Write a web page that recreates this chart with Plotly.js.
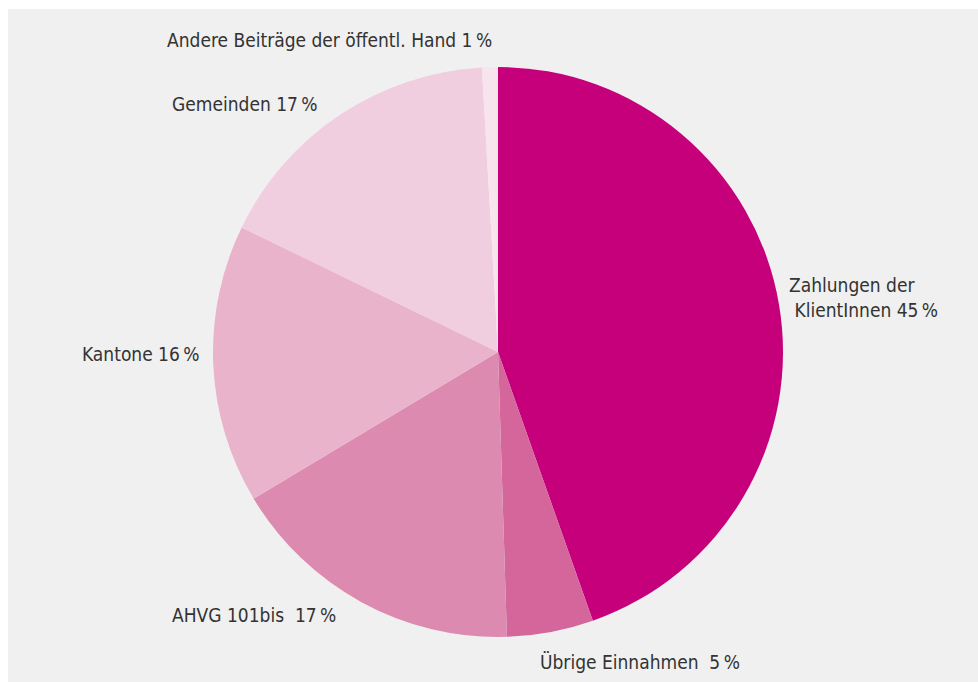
<!DOCTYPE html>
<html>
<head>
<meta charset="utf-8">
<script src="https://cdn.plot.ly/plotly-3.0.1.min.js"></script>
<style>
html,body{margin:0;padding:0;background:#ffffff;width:978px;height:682px;overflow:hidden;}
#chart{position:absolute;left:8px;top:9px;width:970px;height:673px;}
</style>
</head>
<body>
<div id="chart"></div>
<script>
// Data
const categories = ["Zahlungen der KlientInnen", "Übrige Einnahmen", "AHVG 101bis", "Kantone", "Gemeinden", "Andere Beiträge der öffentl. Hand"];
const values = [44.6, 4.9, 16.9, 15.8, 16.9, 0.9];
const labelTexts = [
  "Zahlungen der<br> KlientInnen 45\u2009%",
  "Übrige Einnahmen  5\u2009%",
  "AHVG 101bis  17\u2009%",
  "Kantone 16\u2009%",
  "Gemeinden 17\u2009%",
  "Andere Beiträge der öffentl. Hand 1\u2009%"
];
// Styles / positions (not data)
const colors = ["#c5007a", "#d5669c", "#dc8ab0", "#e9b3cc", "#f0cddf", "#f8e4ed"];
const labelX = [0.803, 0.546, 0.167, 0.074, 0.167, 0.162];
const labelY = [0.571, 0.030, 0.099, 0.487, 0.859, 0.954];

const W = 970, H = 673;
const cx = 490, cy = 343, r = 285;

const trace = {
  type: "pie",
  labels: categories,
  values: values,
  sort: false,
  direction: "clockwise",
  rotation: 0,
  textinfo: "none",
  hoverinfo: "label+percent",
  marker: {colors: colors, line: {width: 0}},
  domain: {x: [(cx - r) / W, (cx + r) / W], y: [(H - cy - r) / H, (H - cy + r) / H]},
  showlegend: false
};

const annotations = labelTexts.map((t, i) => ({
  text: t, x: labelX[i], y: labelY[i], xref: "paper", yref: "paper",
  xanchor: "left", yanchor: "middle", showarrow: false, align: "left",
  font: {family: "DejaVu Sans Condensed, DejaVu Sans, sans-serif", size: 19, color: "#333333"}
}));

Plotly.newPlot("chart", [trace], {
  width: W, height: H,
  margin: {l: 0, r: 0, t: 0, b: 0},
  paper_bgcolor: "#f0f0f0",
  plot_bgcolor: "#f0f0f0",
  annotations: annotations
}, {displayModeBar: false, staticPlot: true});
</script>
</body>
</html>
